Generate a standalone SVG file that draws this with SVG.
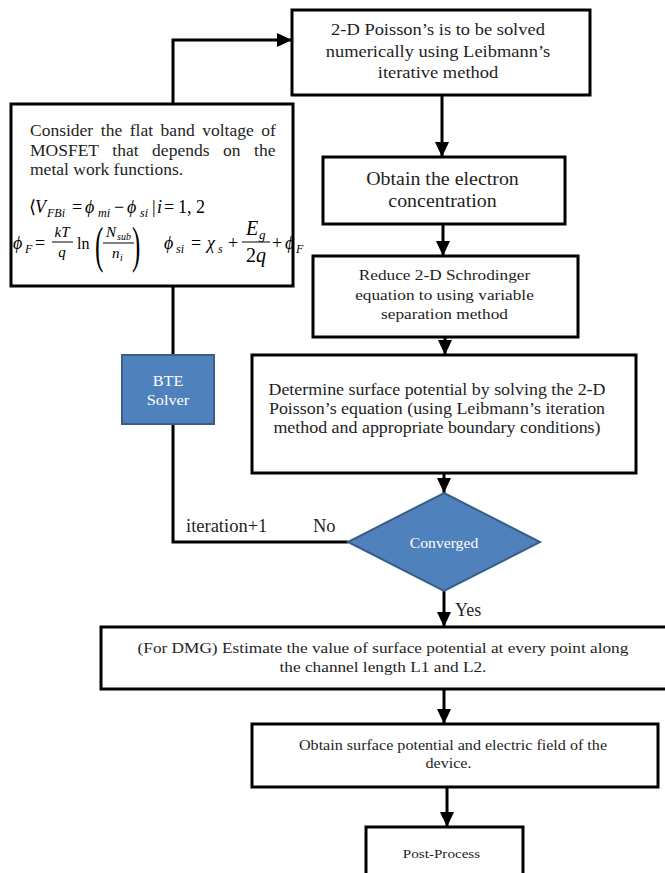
<svg xmlns="http://www.w3.org/2000/svg" width="665" height="873" viewBox="0 0 665 873">
<style>
.box{fill:#fff;stroke:#000;stroke-width:3}
.blue{fill:#4F81BD;stroke:#385D8A;stroke-width:2}
.ln{fill:none;stroke:#000;stroke-width:3}
.t{font-family:"Liberation Serif","Times New Roman","DejaVu Serif",serif;fill:#1e1e1e;text-anchor:middle}
.w{font-family:"Liberation Serif","Times New Roman","DejaVu Serif",serif;fill:#fff;text-anchor:middle}
.l{font-family:"Liberation Serif","Times New Roman","DejaVu Serif",serif;fill:#1e1e1e}
.m{font-family:"Liberation Serif","Times New Roman","DejaVu Serif",serif;fill:#000;font-size:18px}
.i{font-style:italic}
.s{font-size:12px;font-style:italic}
.bar{stroke:#000;stroke-width:1}
</style>
<defs>
<marker id="ah" markerUnits="userSpaceOnUse" markerWidth="15" markerHeight="14" refX="15" refY="7" orient="auto">
<path d="M0,0 L15,7 L0,14 Z" fill="#000"/>
</marker>
</defs>

<g id="connectors">
<path class="ln" d="M173,104 V40 H292" marker-end="url(#ah)"/>
<path class="ln" d="M442,95 V157" marker-end="url(#ah)"/>
<path class="ln" d="M443,224 V256" marker-end="url(#ah)"/>
<path class="ln" d="M445,337 V355" marker-end="url(#ah)"/>
<path class="ln" d="M444,473 V493" marker-end="url(#ah)"/>
<path class="ln" d="M444,591 V627" marker-end="url(#ah)"/>
<path class="ln" d="M444,689 V724" marker-end="url(#ah)"/>
<path class="ln" d="M447,787 V827" marker-end="url(#ah)"/>
<path class="ln" d="M173,286 V355"/>
<path class="ln" d="M173,424 V542 H348"/>
<text class="l" x="186" y="532" font-size="18.5">iteration+1</text>
<text class="l" x="313" y="532" font-size="18.5">No</text>
<text class="l" x="455" y="616" font-size="18">Yes</text>
</g>

<g id="poisson-box">
<rect class="box" x="292" y="10" width="298" height="85"/>
<g class="t" font-size="16.5" transform="matrix(1.12 0 0 1 -52.56 0)">
<text x="438" y="35">2-D Poisson’s is to be solved</text>
<text x="438" y="57">numerically using Leibmann’s</text>
<text x="438" y="78">iterative method</text>
</g>
</g>

<g id="flatband-box">
<rect class="box" x="11" y="104" width="282" height="182"/>
<text class="l" x="30" y="136" font-size="17.5" word-spacing="3.2">Consider the flat band voltage of</text>
<text class="l" x="30" y="156" font-size="17.5" word-spacing="9.2">MOSFET that depends on the</text>
<text class="l" x="30" y="175" font-size="17.5">metal work functions.</text>
<g class="m">
<text x="29" y="213">⟨</text>
<text x="35" y="213" class="i">V</text>
<text x="47" y="217" class="s">FBi</text>
<text x="72" y="213">=</text>
<text x="85" y="213" class="i">ϕ</text>
<text x="98" y="217" class="s">mi</text>
<text x="114" y="213">−</text>
<text x="127" y="213" class="i">ϕ</text>
<text x="140" y="217" class="s">si</text>
<text x="152" y="213">|</text>
<text x="157" y="213" class="i">i</text>
<text x="164" y="213">=</text>
<text x="178" y="213">1, 2</text>

<text x="13" y="249" class="i">ϕ</text>
<text x="25" y="253" class="s">F</text>
<text x="35" y="249">=</text>
<text x="62" y="237" font-size="15" class="i" text-anchor="middle">kT</text>
<line class="bar" x1="52" y1="242" x2="73" y2="242"/>
<text x="62" y="257" font-size="15" class="i" text-anchor="middle">q</text>
<text x="77" y="249" font-size="16">ln</text>
<text transform="translate(95,262) scale(0.5,1)" font-size="50">(</text>
<text x="106" y="237" font-size="15" class="i">N</text>
<text x="117" y="240" font-size="10" class="i">sub</text>
<line class="bar" x1="103" y1="243" x2="134" y2="243"/>
<text x="112" y="258" font-size="15" class="i">n</text>
<text x="120" y="261" font-size="10" class="i">i</text>
<text transform="translate(132,262) scale(0.5,1)" font-size="50">)</text>
<text x="164" y="249" class="i">ϕ</text>
<text x="176" y="253" class="s">si</text>
<text x="191" y="249">=</text>
<text x="207" y="249" class="i">χ</text>
<text x="218" y="253" class="s">s</text>
<text x="228" y="249">+</text>
<text x="246" y="235" font-size="20" class="i">E</text>
<text x="259" y="239" font-size="13" class="i">g</text>
<line class="bar" x1="242" y1="242" x2="270" y2="242"/>
<text x="256" y="262" font-size="20" text-anchor="middle">2<tspan class="i">q</tspan></text>
<text x="272" y="249">+</text>
<text x="285" y="249" class="i">ϕ</text>
<text x="296" y="253" class="s">F</text>
</g>
</g>

<g id="electron-box">
<rect class="box" x="323" y="157" width="242" height="67"/>
<g class="t" font-size="17.8" transform="matrix(1.12 0 0 1 -53.1 0)">
<text x="442.5" y="185">Obtain the electron</text>
<text x="442.5" y="207">concentration</text>
</g>
</g>

<g id="schrodinger-box">
<rect class="box" x="313" y="256" width="265" height="81"/>
<g class="t" font-size="15.4" transform="matrix(1.12 0 0 1 -53.34 0)">
<text x="444.5" y="280">Reduce 2-D Schrodinger</text>
<text x="444.5" y="300">equation to using variable</text>
<text x="444.5" y="319">separation method</text>
</g>
</g>

<g id="bte-solver">
<rect class="blue" x="122" y="355" width="92" height="69"/>
<g class="w" font-size="14.5" transform="matrix(1.12 0 0 1 -20.16 0)">
<text x="168" y="386">BTE</text>
<text x="168" y="405">Solver</text>
</g>
</g>

<g id="surface-potential-box">
<rect class="box" x="252" y="355" width="384" height="118"/>
<g class="t" font-size="16" transform="matrix(1.12 0 0 1 -52.44 0)">
<text x="437" y="395">Determine surface potential by solving the 2-D</text>
<text x="437" y="414">Poisson’s equation (using Leibmann’s iteration</text>
<text x="437" y="433">method and appropriate boundary conditions)</text>
</g>
</g>

<g id="converged">
<polygon class="blue" points="444,493 540,542 444,591 348,542" stroke-width="1.5"/>
<text class="w" x="444" y="548" font-size="14" transform="matrix(1.12 0 0 1 -53.28 0)">Converged</text>
</g>

<g id="dmg-box">
<rect class="box" x="101" y="627" width="570" height="62"/>
<g class="t" font-size="15.4" transform="matrix(1.12 0 0 1 -45.96 0)">
<text x="383" y="653">(For DMG) Estimate the value of surface potential at every point along</text>
<text x="383" y="672">the channel length L1 and L2.</text>
</g>
</g>

<g id="field-box">
<rect class="box" x="252" y="724" width="406" height="63"/>
<g class="t" font-size="14.4" transform="matrix(1.12 0 0 1 -54.36 0)">
<text x="453" y="750">Obtain surface potential and electric field of the</text>
<text x="449" y="768">device.</text>
</g>
</g>

<g id="post-process">
<rect class="box" x="366" y="827" width="157" height="60"/>
<text class="t" x="441.5" y="858" font-size="13.5" transform="matrix(1.12 0 0 1 -52.98 0)">Post-Process</text>
</g>
</svg>
